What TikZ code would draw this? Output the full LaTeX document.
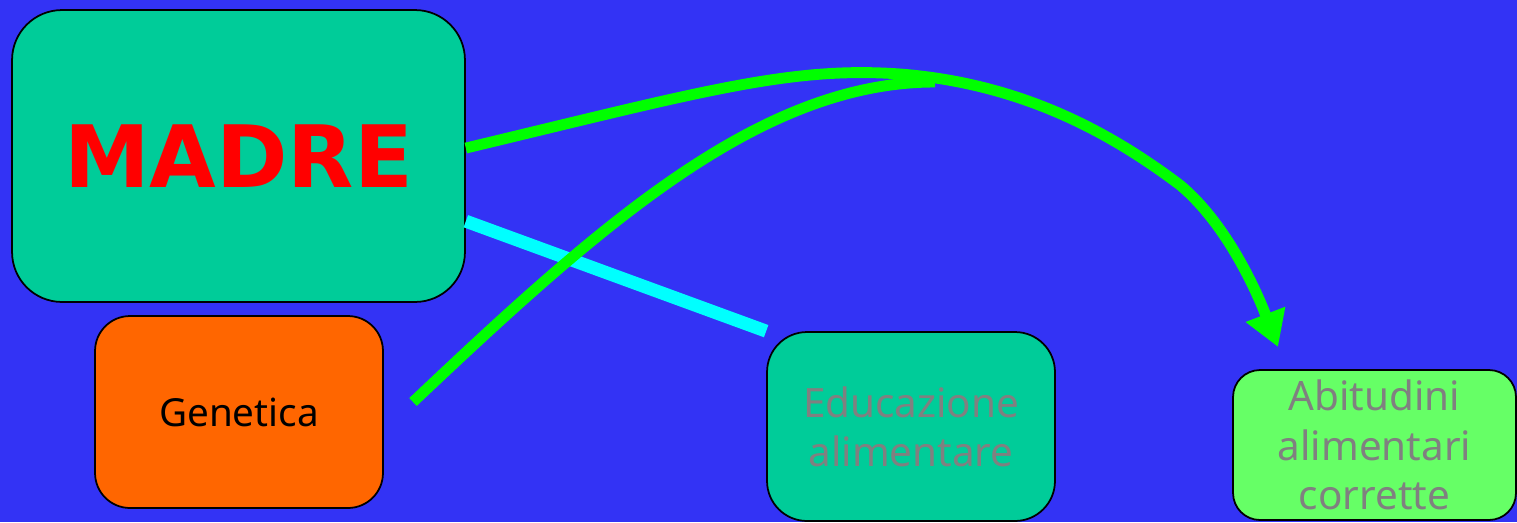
\documentclass[tikz,border=0pt]{standalone}
\usepackage{fontspec}
\setmainfont{Noto Sans}
\newfontfamily\titlefont{DejaVu Sans}
\usetikzlibrary{arrows.meta}

\definecolor{slideblue}{RGB}{51,51,245}
\definecolor{boxteal}{RGB}{0,204,153}
\definecolor{boxorange}{RGB}{255,102,0}
\definecolor{boxlime}{RGB}{102,255,102}
\definecolor{linkgreen}{RGB}{0,255,0}
\definecolor{linkcyan}{RGB}{0,255,255}
\definecolor{textgray}{RGB}{128,128,128}

\tikzset{
    box/.style={draw=black, line width=1pt, align=center, inner sep=0pt},
    greenlink/.style={draw=linkgreen, line width=6.2pt},
}

\begin{document}
\begin{tikzpicture}[x=0.02cm, y=-0.02cm]
    % Background
    \fill[slideblue] (0,0) rectangle (1517,522);
    \useasboundingbox (0,0) rectangle (1517,522);

    % Define nodes
    \node[box, fill=boxteal, rounded corners=1cm, minimum width=9.06cm, minimum height=5.84cm,
          text=red, font=\titlefont\bfseries\fontsize{49}{55}\selectfont] (madre) at (238.5,156) {MADRE};
    \node[box, fill=boxorange, rounded corners=0.7cm, minimum width=5.76cm, minimum height=3.84cm,
          font=\fontsize{22}{27}\selectfont] (gen) at (239,412) {Genetica};
    \node[box, fill=boxteal, rounded corners=0.8cm, minimum width=5.76cm, minimum height=3.78cm,
          text=textgray, font=\fontsize{23}{28}\selectfont] (edu) at (911,426.5) {Educazione\\alimentare};
    \node[box, fill=boxlime, rounded corners=0.54cm, minimum width=5.66cm, minimum height=3.0cm,
          text=textgray, font=\fontsize{23}{28}\selectfont] (abit) at (1374.5,445) {Abitudini\\alimentari\\corrette};

    % Free ends of the green links
    \coordinate (tip) at (1278,347);
    \coordinate (gstart) at (413,402);
    \coordinate (gend) at (935,82);

    % Draw cyan line
    \draw[linkcyan, line width=7.4pt] (madre.-16) -- (edu.north west);

    % Draw green links
    \draw[greenlink] (gstart) .. controls (600,225) and (760,82) .. (gend);
    \draw[greenlink, -{Triangle[length=0.7cm, width=0.8cm]}] (madre.2)
        .. controls (700,92) and (790,66) .. (900,74)
        .. controls (1030,84) and (1120,140) .. (1180,185)
        .. controls (1228,225) and (1258,295) .. (tip);
\end{tikzpicture}
\end{document}
